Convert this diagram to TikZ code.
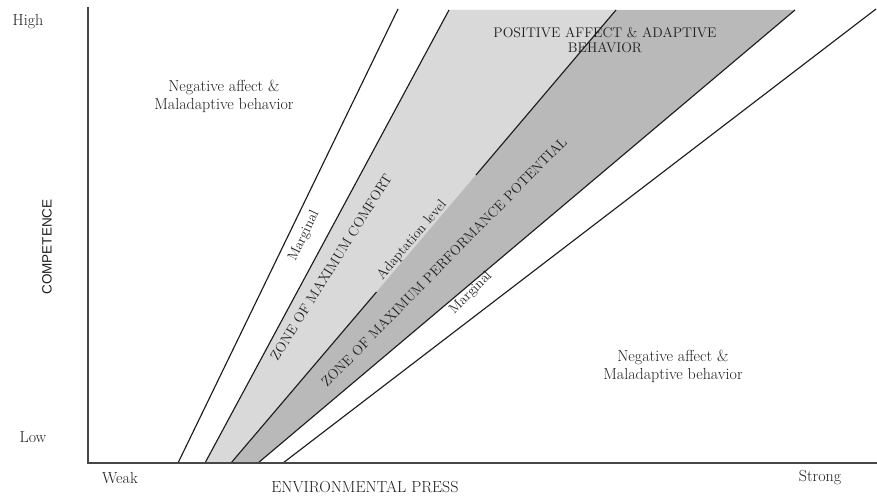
\documentclass[tikz,border=0pt]{standalone}
\usepackage{fontspec}
\newfontfamily\sansf{Liberation Sans}
\definecolor{lightzone}{HTML}{D9D9D9}
\definecolor{midzone}{HTML}{B9B9B9}
\definecolor{inkc}{HTML}{1E1E1E}
\definecolor{axisc}{HTML}{474747}
\begin{document}
\begin{tikzpicture}[x=1pt,y=-1pt,
  zline/.style={draw=inkc,line width=1.15pt},
  axisline/.style={draw=axisc,line width=1.7pt},
  bigtxt/.style={text=inkc,font=\fontsize{16}{18}\selectfont,align=center,inner sep=0pt},
  rottxt/.style={text=inkc,font=\fontsize{14}{16}\selectfont,inner sep=0pt},
  captxt/.style={text=inkc,font=\fontsize{14}{15.5}\selectfont,align=center,inner sep=0pt}]
\useasboundingbox (0,0) rectangle (877,495);
% coordinates
\coordinate (o) at (88,463);
\coordinate (ytop) at (88,7);
\coordinate (xend) at (877,463);
\coordinate (b1) at (178,463); \coordinate (t1) at (398,9);
\coordinate (b2) at (205,463); \coordinate (t2) at (449,10);
\coordinate (b3) at (231,463); \coordinate (t3) at (616,10);
\coordinate (g1) at (376.5,292); \coordinate (g2) at (476,175);
\coordinate (b4) at (258,463); \coordinate (t4) at (795,10);
\coordinate (b5) at (283,463); \coordinate (t5) at (876,9);
% zones
\fill[lightzone] (b2) -- (t2) -- (t3) -- (b3) -- cycle;
\fill[midzone] (b3) -- (t3) -- (t4) -- (b4) -- cycle;
% lines
\draw[zline] (b1) -- (t1);
\draw[zline] (b2) -- (t2);
\draw[zline] (b3) -- (g1);
\draw[zline] (g2) -- (t3);
\draw[zline] (b4) -- (t4);
\draw[zline] (b5) -- (t5);
% axes
\draw[axisline] (ytop) -- (o) -- (xend);
% texts
\node[bigtxt] (high) at (28,22) {High};
\node[bigtxt] (low) at (33,437) {Low};
\node[bigtxt] (weak) at (120,478) {Weak};
\node[bigtxt] (strong) at (820,478) {Strong};
\node[bigtxt] (press) at (365,487) {ENVIRONMENTAL PRESS};
\node[text=inkc,font=\sansf\fontsize{13.5}{16}\selectfont,inner sep=0pt,rotate=90] (comp) at (47,247) {COMPETENCE};
\node[bigtxt] (negtl) at (224,96) {Negative affect \&\\Maladaptive behavior};
\node[bigtxt] (negbr) at (673,366) {Negative affect \&\\Maladaptive behavior};
\node[captxt] (pos) at (605,40) {POSITIVE AFFECT \& ADAPTIVE\\BEHAVIOR};
\node[rottxt,rotate=64] (margl) at (304,236) {Marginal};
\node[rottxt,rotate=58] (comfort) at (331,267) {ZONE OF MAXIMUM COMFORT};
\node[rottxt,rotate=49.5] (adapt) at (412,240) {Adaptation level};
\node[rottxt,rotate=45.5] (perf) at (444,262) {ZONE OF MAXIMUM PERFORMANCE POTENTIAL};
\node[rottxt,rotate=45] (margr) at (471,293) {Marginal};
\end{tikzpicture}
\end{document}
